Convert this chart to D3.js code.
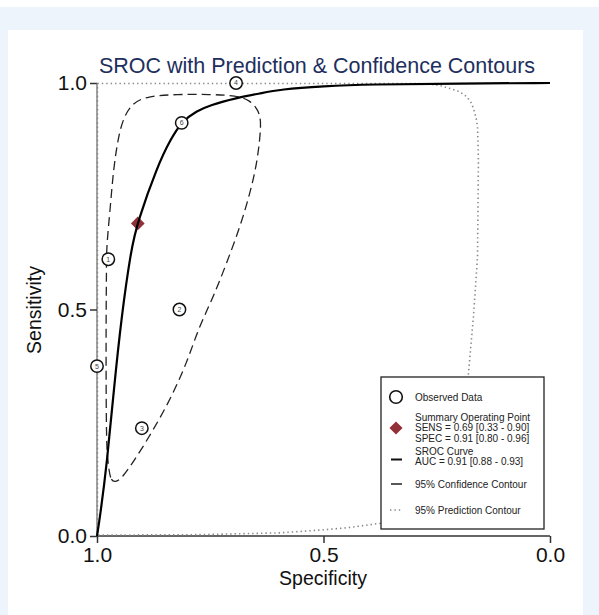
<!DOCTYPE html>
<html>
<head>
<meta charset="utf-8">
<script src="https://cdn.jsdelivr.net/npm/d3@7"></script>
<style>
  html, body { margin: 0; padding: 0; background: #fff; }
  svg { display: block; font-family: "Liberation Sans", Arial, sans-serif; }
</style>
</head>
<body>
<svg id="chart"></svg>
<script>
// tick values
const xTicks = [1.0, 0.5, 0.0];
const yTicks = [0.0, 0.5, 1.0];

// observed studies
const studyIds = [1, 2, 3, 4, 5, 6];
const studySpec = [0.975, 0.818, 0.901, 0.693, 1.0, 0.813];
const studySens = [0.611, 0.500, 0.238, 1.0, 0.375, 0.912];

// summary operating point
const summarySpec = [0.91];
const summarySens = [0.69];

// SROC curve
const srocSpec = [1.0, 0.993, 0.978, 0.963, 0.946, 0.925, 0.911, 0.866, 0.838, 0.812, 0.780, 0.751, 0.692, 0.640, 0.596, 0.5, 0.4, 0.2, 0.0];
const srocSens = [0.0, 0.045, 0.160, 0.322, 0.484, 0.631, 0.692, 0.818, 0.875, 0.916, 0.938, 0.951, 0.967, 0.977, 0.986, 0.993, 0.997, 0.999, 1.0];

// 95% confidence contour
const confSpec = [0.960, 0.971, 0.975, 0.979, 0.980, 0.980, 0.979, 0.979, 0.971, 0.964, 0.953, 0.942, 0.923, 0.890, 0.824, 0.751,
                  0.692, 0.662, 0.644, 0.638, 0.640, 0.647, 0.662, 0.684, 0.714, 0.743, 0.776, 0.802, 0.839, 0.876, 0.912, 0.945];
const confSens = [0.118, 0.124, 0.160, 0.190, 0.337, 0.484, 0.594, 0.639, 0.720, 0.808, 0.881, 0.922, 0.955, 0.971, 0.975, 0.975,
                  0.972, 0.962, 0.940, 0.918, 0.881, 0.823, 0.757, 0.683, 0.602, 0.528, 0.459, 0.381, 0.300, 0.234, 0.175, 0.127];

// 95% prediction contour
const predSpec = [0.999, 0.60, 0.300, 0.272, 0.245, 0.221, 0.200, 0.184, 0.173, 0.168, 0.163, 0.160, 0.158, 0.160, 0.169, 0.180,
                  0.199, 0.232, 0.287, 0.375, 0.449, 0.523, 0.596, 0.773, 0.999];
const predSens = [0.999, 0.999, 0.999, 0.998, 0.995, 0.988, 0.981, 0.970, 0.955, 0.940, 0.922, 0.904, 0.830, 0.617, 0.484, 0.359,
                  0.212, 0.102, 0.053, 0.028, 0.018, 0.012, 0.007, 0.003, 0.002];

const width = 599, height = 615;

const svg = d3.select("#chart")
    .attr("width", width)
    .attr("height", height);

// page background and white panel
svg.append("rect").attr("x", 0).attr("y", 7).attr("width", width).attr("height", height - 7).attr("fill", "#eef4fc");
svg.append("rect").attr("x", 8).attr("y", 30).attr("width", 575).attr("height", height - 30).attr("fill", "#fff");

const x = d3.scaleLinear().domain([1, 0]).range([97, 550]);
const y = d3.scaleLinear().domain([0, 1]).range([536, 83]);

const zip = (a, b) => a.map((v, i) => [v, b[i]]);
const line = curve => d3.line().x(d => x(d[0])).y(d => y(d[1])).curve(curve);

// axes
const xAxis = svg.append("g")
    .attr("transform", `translate(0,${y(0)})`)
    .call(d3.axisBottom(x).tickValues(xTicks).tickFormat(d3.format(".1f")).tickSize(7).tickPadding(4));
const yAxis = svg.append("g")
    .attr("transform", `translate(${x(1)},0)`)
    .call(d3.axisLeft(y).tickValues(yTicks).tickFormat(d3.format(".1f")).tickSize(7).tickPadding(3));

[xAxis, yAxis].forEach(a => {
    a.select(".domain").attr("stroke", "#333").attr("stroke-width", 1.5);
    a.selectAll(".tick line").attr("stroke", "#333").attr("stroke-width", 1.5);
    a.selectAll(".tick text").attr("fill", "#111").style("font-size", "21px");
});
xAxis.select(".domain").attr("d", `M${x(1)},0H${x(0)}`);
yAxis.select(".domain").attr("d", `M0,${y(0)}V${y(1)}`).attr("stroke", "#666").attr("stroke-width", 1.2);

// prediction contour
svg.append("path")
    .datum(zip(predSpec, predSens))
    .attr("d", line(d3.curveLinearClosed))
    .attr("fill", "none")
    .attr("stroke", "#888")
    .attr("stroke-width", 1.6)
    .attr("stroke-dasharray", "1.4,3");

// confidence contour
svg.append("path")
    .datum(zip(confSpec, confSens))
    .attr("d", line(d3.curveBasisClosed))
    .attr("fill", "none")
    .attr("stroke", "#222")
    .attr("stroke-width", 1.3)
    .attr("stroke-dasharray", "9,5");

// summary point
svg.selectAll(".summary")
    .data(zip(summarySpec, summarySens))
    .join("path")
    .attr("class", "summary")
    .attr("transform", d => `translate(${x(d[0])},${y(d[1])})`)
    .attr("d", d3.symbol(d3.symbolDiamond2, 120))
    .attr("fill", "#923038");

// SROC curve
svg.append("path")
    .datum(zip(srocSpec, srocSens))
    .attr("d", line(d3.curveBasis))
    .attr("fill", "none")
    .attr("stroke", "#000")
    .attr("stroke-width", 2.2);

// observed studies
const study = svg.append("g")
    .selectAll("g")
    .data(studyIds.map((id, i) => ({ id, spec: studySpec[i], sens: studySens[i] })))
    .join("g")
    .attr("transform", d => `translate(${x(d.spec)},${y(d.sens)})`);
study.append("circle")
    .attr("r", 6.2)
    .attr("fill", "#fff")
    .attr("stroke", "#111")
    .attr("stroke-width", 1.5);
study.append("text")
    .attr("text-anchor", "middle")
    .attr("dy", "0.35em")
    .style("font-size", "7px")
    .attr("fill", "#444")
    .text(d => d.id);

// title and axis labels
svg.append("text")
    .attr("x", 317).attr("y", 73)
    .attr("text-anchor", "middle")
    .style("font-size", "21.5px")
    .attr("fill", "#1e2f5e")
    .text("SROC with Prediction & Confidence Contours");
svg.append("text")
    .attr("x", 323).attr("y", 585)
    .attr("text-anchor", "middle")
    .style("font-size", "19.5px")
    .attr("fill", "#111")
    .text("Specificity");
svg.append("text")
    .attr("transform", "translate(41,310) rotate(-90)")
    .attr("text-anchor", "middle")
    .style("font-size", "19.5px")
    .attr("fill", "#111")
    .text("Sensitivity");

// legend
const legend = svg.append("g");
legend.append("rect")
    .attr("x", 381).attr("y", 377).attr("width", 163).attr("height", 152)
    .attr("fill", "#fff").attr("stroke", "#222").attr("stroke-width", 1.3);

legend.append("circle").attr("cx", 396).attr("cy", 397).attr("r", 6.3)
    .attr("fill", "#fff").attr("stroke", "#111").attr("stroke-width", 1.6);
legend.append("path").attr("transform", "translate(396,428)")
    .attr("d", d3.symbol(d3.symbolDiamond2, 110)).attr("fill", "#923038");
legend.append("line").attr("x1", 391).attr("x2", 402).attr("y1", 459.5).attr("y2", 459.5)
    .attr("stroke", "#111").attr("stroke-width", 2);
legend.append("line").attr("x1", 391).attr("x2", 402).attr("y1", 484).attr("y2", 484)
    .attr("stroke", "#111").attr("stroke-width", 1.4);
legend.append("line").attr("x1", 390).attr("x2", 403).attr("y1", 510).attr("y2", 510)
    .attr("stroke", "#888").attr("stroke-width", 1.4).attr("stroke-dasharray", "1.4,3");

const legendLines = [
    ["Observed Data", 397],
    ["Summary Operating Point", 417],
    ["SENS = 0.69 [0.33 - 0.90]", 427.5],
    ["SPEC = 0.91 [0.80 - 0.96]", 438],
    ["SROC Curve", 451],
    ["AUC = 0.91 [0.88 - 0.93]", 461.5],
    ["95% Confidence Contour", 484],
    ["95% Prediction Contour", 510]
];
legend.selectAll(".lt")
    .data(legendLines)
    .join("text")
    .attr("class", "lt")
    .attr("x", 415)
    .attr("y", d => d[1])
    .attr("dy", "0.35em")
    .style("font-size", "10px")
    .attr("fill", "#222")
    .text(d => d[0]);
</script>
</body>
</html>
